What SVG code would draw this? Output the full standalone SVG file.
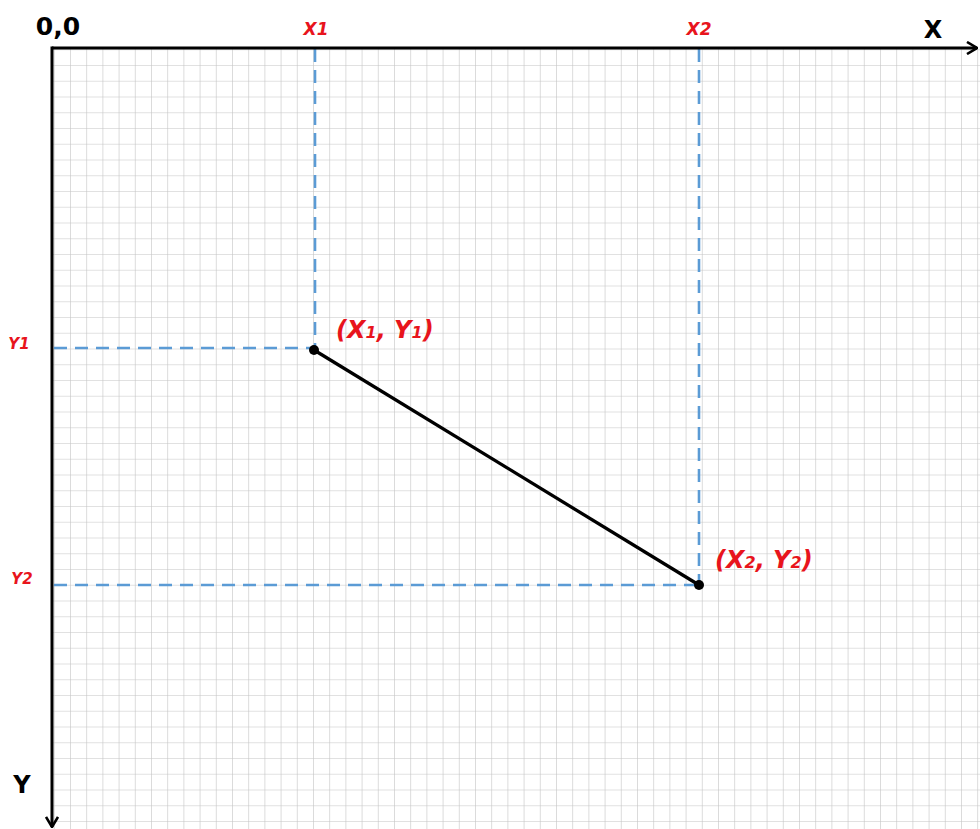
<svg xmlns="http://www.w3.org/2000/svg" width="980" height="829" viewBox="0 0 980 829">
<defs>
<pattern id="grid" x="70" y="65" width="16.2" height="15.75" patternUnits="userSpaceOnUse">
<path d="M0 0V15.75M0 0H16.2" fill="none" stroke="#c4c4c4" stroke-width="1.2"/>
</pattern>
<marker id="arr" viewBox="0 0 12 14" refX="11" refY="7" markerWidth="12" markerHeight="14" markerUnits="userSpaceOnUse" orient="auto">
<path d="M1 1L11 7L1 13" fill="none" stroke="#000" stroke-width="2.6" stroke-linejoin="miter"/>
</marker>
</defs>
<style>
.ax{stroke:#000;stroke-width:3;fill:none}
.dash{stroke:#5b9bd5;stroke-width:2.6;stroke-dasharray:13 8;fill:none}
.lbl{font-family:"DejaVu Sans",Verdana,sans-serif;font-weight:bold;fill:#000}
.red{font-family:"DejaVu Sans",Verdana,sans-serif;font-weight:bold;font-style:italic;fill:#e8141c}
</style>
<rect width="980" height="829" fill="#fff"/>
<rect x="53" y="49" width="927" height="780" fill="url(#grid)"/>
<g id="guides">
<path class="dash" d="M315 49V348"/>
<path class="dash" d="M699 49V585"/>
<path class="dash" d="M54 348H314"/>
<path class="dash" d="M54 585H699"/>
</g>
<g id="axes">
<path class="ax" d="M52 48H977" marker-end="url(#arr)"/>
<path class="ax" d="M52 46.5V827" marker-end="url(#arr)"/>
</g>
<g id="connectors">
<path d="M314 350L699 585" stroke="#000" stroke-width="3.3" fill="none"/>
</g>
<g id="p1"><circle cx="314" cy="350" r="5" fill="#000"/></g>
<g id="p2"><circle cx="699" cy="585" r="5" fill="#000"/></g>
<g id="labels">
<text class="lbl" x="58" y="35" font-size="25" text-anchor="middle">0,0</text>
<text class="lbl" x="933" y="38" font-size="24" text-anchor="middle">X</text>
<text class="lbl" x="22" y="793" font-size="24" text-anchor="middle">Y</text>
<text class="red" x="316" y="35" font-size="17" text-anchor="middle">X1</text>
<text class="red" x="699" y="35" font-size="17" text-anchor="middle">X2</text>
<text class="red" x="19" y="349" font-size="15" text-anchor="middle">Y1</text>
<text class="red" x="22" y="584" font-size="15" text-anchor="middle">Y2</text>
<text class="red" x="336" y="338" font-size="24">(X<tspan font-size="16">1</tspan>, Y<tspan font-size="16">1</tspan>)</text>
<text class="red" x="715" y="568" font-size="24">(X<tspan font-size="16">2</tspan>, Y<tspan font-size="16">2</tspan>)</text>
</g>
</svg>
